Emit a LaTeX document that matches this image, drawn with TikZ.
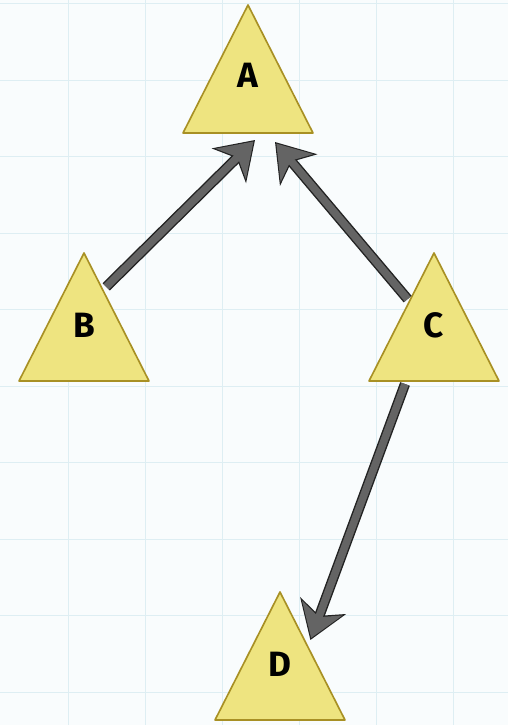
\documentclass[tikz,border=0pt]{standalone}
\usepackage{fontspec}
\setmainfont{Fira Sans}
\usetikzlibrary{arrows.meta,calc}
\definecolor{bgcol}{RGB}{249,252,253}
\definecolor{gridcol}{RGB}{222,238,243}
\definecolor{trifill}{RGB}{238,228,128}
\definecolor{triedge}{RGB}{168,144,36}
\definecolor{linkfill}{RGB}{100,100,100}
\definecolor{linkedge}{RGB}{34,34,34}

\begin{document}
\begin{tikzpicture}[
    x=0.03cm, y=-0.03cm,
    gridline/.style={draw=gridcol, line width=0.6pt},
    tri/.style={draw=triedge, fill=trifill, line width=1.4pt, line join=round},
    lbl/.style={font=\fontsize{30}{30}\selectfont\bfseries, text=black, inner sep=0pt},
    link/.style={draw=linkfill, line width=6.4pt, line cap=butt,
        -{Stealth[length=27pt, width=36pt, inset=8pt]}, shorten >=1.8pt,
        preaction={draw=linkedge, line width=8.8pt, shorten >=0pt,
            -{Stealth[length=31pt, width=41pt, inset=9pt]}}}
]
    % Background and grid
    \fill[bgcol] (0,0) rectangle (508,725);
    \useasboundingbox (0,0) rectangle (508,725);
    \foreach \gx in {68,145,...,460}
        \draw[gridline] (\gx,0) -- (\gx,725);
    \foreach \gy in {3.5,80,...,725}
        \draw[gridline] (0,\gy) -- (508,\gy);

    % Triangles
    \foreach \n/\tx/\ty/\dy in {A/248/5/70, B/84/253/72, C/434/253/72, D/280/592/72} {
        \coordinate (\n-top) at (\tx,\ty);
        \coordinate (\n-left) at (\tx-65,\ty+128);
        \coordinate (\n-right) at (\tx+65,\ty+128);
        \coordinate (\n-base) at (\tx,\ty+128);
        \draw[tri] (\n-top) -- (\n-right) -- (\n-left) -- cycle;
        \node[lbl] (\n) at (\tx,\ty+\dy) {\n};
    }

    % Edges
    \draw[link] ($(B-top)!0.28!(B-right)+(4,-2)$) -- ($(A-base)+(7,7)$);
    \draw[link] ($(C-top)!0.36!(C-left)+(-3,0)$) -- ($(A-base)+(27,9)$);
    \draw[link] ($(C-base)+(-29,3)$) -- ($(D-top)!0.375!(D-right)+(6,0)$);
\end{tikzpicture}
\end{document}
